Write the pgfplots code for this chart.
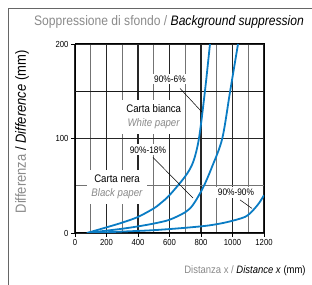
\documentclass[border=0pt]{standalone}
\usepackage{pgfplots}
\pgfplotsset{compat=1.18}
\usepackage{fontspec}
\setmainfont{Liberation Sans}
\newfontfamily\cond{Liberation Sans}[FakeStretch=0.88]
\definecolor{cblue}{HTML}{0A7CC4}
\definecolor{tgray}{HTML}{8A8A8A}
\begin{document}
\begin{tikzpicture}[x=1bp,y=1bp]
\useasboundingbox (0,0) rectangle (312,285);
\draw[black!60, line width=0.9bp] (8.5,0) -- (8.5,276.5) -- (312,276.5);
\node[font=\cond\fontsize{13.8}{15}\selectfont] at (169,263) {\textcolor{tgray}{Soppressione di sfondo /} \textit{Background suppression}};
\node[font=\cond\fontsize{14.8}{16}\selectfont, rotate=90] at (22,153) {\textcolor{tgray}{Differenza} / \textit{Difference} (mm)};
\node[font=\cond\fontsize{10.8}{12}\selectfont] at (245,14) {\textcolor{tgray}{Distanza x /} \textit{Distance x} (mm)};
\begin{axis}[at={(75bp,52bp)}, anchor=south west, scale only axis,
  width=189bp, height=189bp,
  xmin=0, xmax=1200, ymin=0, ymax=200,
  xtick={0,200,...,1200}, minor xtick={100,300,...,1100},
  ytick={0,100,200}, minor ytick={50},
  extra y ticks={150}, extra y tick labels={},
  extra y tick style={major tick length=0pt, grid=major, major grid style={black!90, line width=1bp}},
  grid=both,
  major grid style={black!85, line width=1.1bp},
  minor grid style={black!55, line width=1.1bp},
  tick align=outside, tick pos=left, major tick length=4bp, minor tick length=0pt,
  tick style={black, line width=0.8bp},
  axis line style={black, line width=1bp},
  /pgf/number format/assume math mode=true,
  /pgf/number format/1000 sep={},
  ticklabel style={font=\cond\fontsize{8.8}{9}\selectfont},
  xticklabel style={yshift=1bp},
  yticklabel style={xshift=1bp},
]
\addplot[cblue, line width=1.8bp, smooth, tension=0.5] coordinates {
(76,0) (200,6) (300,11) (400,17) (500,26) (540,31) (600,40) (700,60) (750,75) (787,100) (825,150) (857,200)};
\addplot[cblue, line width=1.8bp, smooth, tension=0.5] coordinates {
(76,0) (200,2.5) (300,4.5) (400,7) (500,10) (600,14) (700,22) (750,30) (813,48) (870,70) (935,100) (985,150) (1035,200)};
\addplot[cblue, line width=1.8bp, smooth, tension=0.5] coordinates {
(76,0) (300,1.5) (500,3) (700,5.5) (850,8) (965,11.5) (1079,17) (1130,24) (1170,32) (1200,40)};
\draw[black, line width=0.5bp] (axis cs:667,153) -- (axis cs:806,128);
\draw[black, line width=0.5bp] (axis cs:495,80) -- (axis cs:749,37);
\draw[black, line width=0.5bp] (axis cs:1048,35) -- (axis cs:1124,26);
\node[fill=white, inner sep=2bp, font=\cond\fontsize{9.5}{10}\selectfont] at (axis cs:603,163) {90\%-6\%};
\node[fill=white, inner sep=2bp, font=\cond\fontsize{9.5}{10}\selectfont] at (axis cs:463,88) {90\%-18\%};
\node[fill=white, inner sep=2bp, font=\cond\fontsize{9.5}{10}\selectfont] at (axis cs:1022,43) {90\%-90\%};
\node[fill=white, inner xsep=4bp, inner ysep=5bp, align=center, font=\cond\fontsize{11}{14}\selectfont] at (axis cs:500,123) {Carta bianca\\\textcolor{tgray}{\textit{White paper}}};
\node[fill=white, inner xsep=4bp, inner ysep=5bp, align=center, font=\cond\fontsize{11}{14}\selectfont] at (axis cs:267,49) {Carta nera\\\textcolor{tgray}{\textit{Black paper}}};
\end{axis}
\end{tikzpicture}
\end{document}
